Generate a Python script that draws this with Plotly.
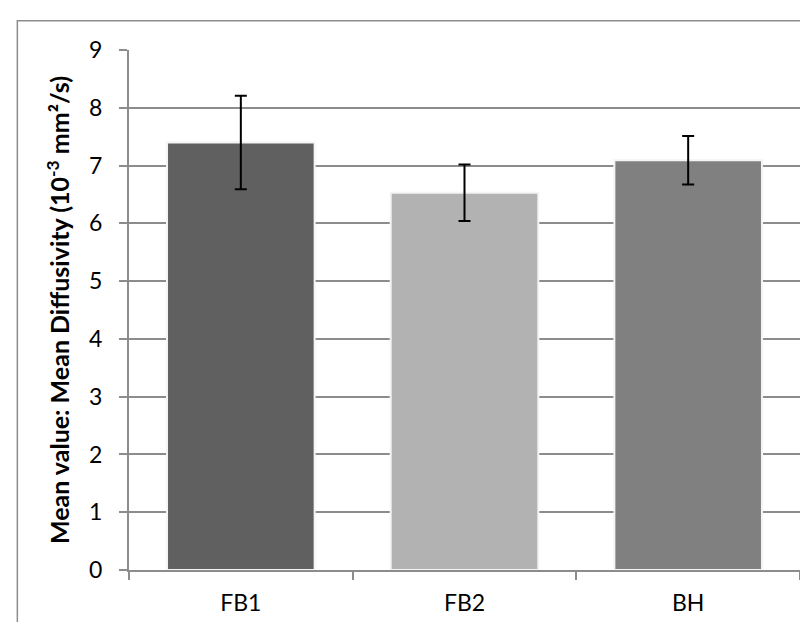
import plotly.graph_objects as go

categories = ["FB1", "FB2", "BH"]
mean_values = [7.40, 6.53, 7.09]
error_values = [0.81, 0.49, 0.42]
bar_colors = ["#606060", "#b2b2b2", "#808080"]
y_ticks = [0, 1, 2, 3, 4, 5, 6, 7, 8, 9]

FONT = "Lato, Open Sans, sans-serif"

fig = go.Figure()
fig.add_trace(go.Bar(
    x=categories,
    y=mean_values,
    marker=dict(color=bar_colors, line=dict(color="#f4f4f4", width=2)),
    error_y=dict(type="data", array=error_values, visible=True,
                 color="#000000", thickness=2, width=6),
    width=0.66,
))

fig.update_layout(
    width=808, height=622,
    margin=dict(l=121, r=16, t=42, b=60),
    paper_bgcolor="#ffffff",
    plot_bgcolor="#ffffff",
    showlegend=False,
    font=dict(family=FONT, size=23, color="#000000"),
    xaxis=dict(
        showline=True, linecolor="#8c8c8c", linewidth=2,
        ticks="outside", ticklen=8, tickcolor="#8c8c8c", tickwidth=2,
        tickson="boundaries", ticklabelstandoff=11,
        showgrid=False, zeroline=False,
        tickfont=dict(size=23, family=FONT),
    ),
    yaxis=dict(
        range=[0, 9], tickvals=y_ticks,
        showline=True, linecolor="#8c8c8c", linewidth=2,
        ticks="outside", ticklen=8, tickcolor="#8c8c8c", tickwidth=2,
        showgrid=True, gridcolor="#8c8c8c", gridwidth=2,
        zeroline=False, ticklabelstandoff=12,
        tickfont=dict(size=23, family=FONT),
        title=dict(text="Mean value: Mean Diffusivity (10<sup>-3</sup> mm²/s)",
                   font=dict(size=25, family=FONT, weight="bold"), standoff=12),
    ),
    shapes=[dict(type="rect", xref="paper", yref="paper",
                 x0=-0.1664, x1=1.03, y0=-0.15, y1=1.0563,
                 line=dict(color="#8c8c8c", width=1.5), layer="below")],
)

fig.write_html("out.html")
